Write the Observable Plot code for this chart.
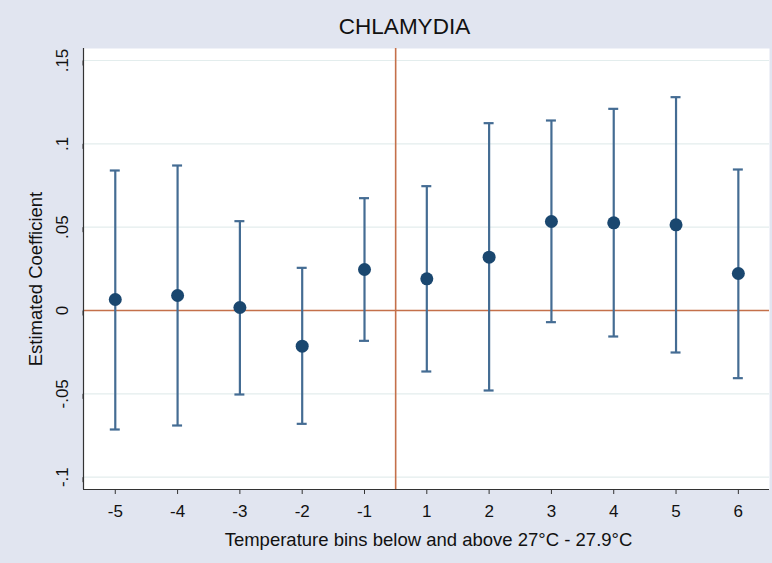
<!DOCTYPE html>
<html>
<head>
<meta charset="utf-8">
<script src="https://cdn.jsdelivr.net/npm/d3@7"></script>
<script src="https://cdn.jsdelivr.net/npm/@observablehq/plot@0.6"></script>
<style>
  html, body { margin: 0; padding: 0; background: #e1e5f0; }
  #wrap { width: 772px; height: 563px; position: relative; background: #e1e5f0; overflow: hidden; }
  #title { position: absolute; left: 0; top: 14px; width: 772px; text-align: center; padding-left: 37px; box-sizing: border-box;
           font-family: "Liberation Sans", Arial, Helvetica, sans-serif; font-size: 22.5px; color: #111; line-height: 26px; }
  #chart { position: absolute; left: 0; top: 40px; }
</style>
</head>
<body>
<div id="wrap">
  <div id="title">CHLAMYDIA</div>
  <div id="chart"></div>
</div>
<script>
const bins  = ["-5", "-4", "-3", "-2", "-1", "1", "2", "3", "4", "5", "6"];
const coef  = [0.0066, 0.0090, 0.0018, -0.0214, 0.0246, 0.0190, 0.0320, 0.0534, 0.0526, 0.0514, 0.0222];
const lower = [-0.0714, -0.0690, -0.0504, -0.0680, -0.0182, -0.0366, -0.0480, -0.0070, -0.0156, -0.0252, -0.0406];
const upper = [0.0840, 0.0870, 0.0536, 0.0256, 0.0674, 0.0746, 0.1124, 0.1140, 0.1210, 0.1280, 0.0846];
const yTicks = [-0.1, -0.05, 0, 0.05, 0.1, 0.15];
const yTickLabels = ["-.1", "-.05", "0", ".05", ".1", ".15"];
const xLabel = "Temperature bins below and above 27°C - 27.9°C";
const yLabel = "Estimated Coefficient";

const data = bins.map((b, i) => ({i, bin: b, coef: coef[i], lo: lower[i], hi: upper[i]}));

const navy = "#1a476f";
const bar = "#446c93";
const red = "#c4704a";
const font = "'Liberation Sans', Arial, Helvetica, sans-serif";
const capHalf = 0.08;
const xDomain = [-0.51, 10.5];
const yDomain = [-0.1074, 0.1572];

const chart = Plot.plot({
  width: 772,
  height: 523,
  marginTop: 8,
  marginBottom: 74,
  marginLeft: 83,
  marginRight: 3,
  style: {background: "transparent", fontFamily: font, color: "#222"},
  x: {domain: xDomain},
  y: {domain: yDomain},
  marks: [
    Plot.frame({fill: "white", stroke: "none"}),
    Plot.gridY(yTicks, {stroke: "#e3eded", strokeOpacity: 1, strokeWidth: 1.2}),
    Plot.ruleY([0], {stroke: red, strokeWidth: 1.6}),
    Plot.ruleX([4.5], {stroke: red, strokeWidth: 1.6}),
    Plot.ruleX(data, {x: "i", y1: "lo", y2: "hi", stroke: bar, strokeWidth: 2.2}),
    Plot.ruleY(data, {y: "hi", x1: d => d.i - capHalf, x2: d => d.i + capHalf, stroke: bar, strokeWidth: 2.2}),
    Plot.ruleY(data, {y: "lo", x1: d => d.i - capHalf, x2: d => d.i + capHalf, stroke: bar, strokeWidth: 2.2}),
    Plot.dot(data, {x: "i", y: "coef", r: 6.5, fill: navy, stroke: "none"}),
    Plot.ruleX([xDomain[0]], {stroke: "#333", strokeWidth: 1.2}),
    Plot.ruleY([yDomain[0]], {stroke: "#333", strokeWidth: 1.2}),
    Plot.axisX({ticks: d3.range(bins.length), tickFormat: i => bins[i], tickSize: 5, tickPadding: 10,
                fontSize: 17, label: null, stroke: "#333", fill: "#111"}),
    Plot.axisY({ticks: yTicks, tickFormat: v => yTickLabels[yTicks.indexOf(v)], tickSize: 5, tickPadding: 16,
                rotate: -90, textAnchor: "middle", fontSize: 17, label: null, stroke: "#333", fill: "#111"}),
    Plot.text([xLabel], {frameAnchor: "bottom", dy: 56, fontSize: 18.5, fill: "#111", dx: 2}),
    Plot.text([yLabel], {frameAnchor: "left", textAnchor: "middle", dx: -47, dy: 10, rotate: -90, fontSize: 18.5, fill: "#111"})
  ]
});
document.getElementById("chart").appendChild(chart);
</script>
</body>
</html>
